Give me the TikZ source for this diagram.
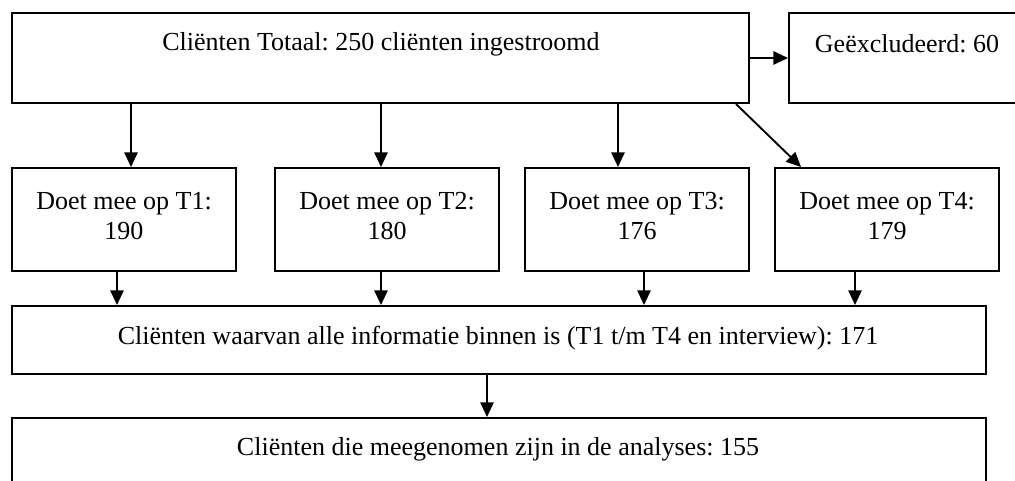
\documentclass[tikz,border=0pt]{standalone}
\usepackage{fontspec}
\setmainfont{Liberation Serif}
\usetikzlibrary{arrows.meta}
\frenchspacing
\begin{document}
\begin{tikzpicture}[x={(0.75pt,0)},y={(0,-0.75pt)},
  box/.style={draw,line width=1.5pt,rectangle,inner sep=0pt},
  txt/.style={inner sep=0pt,align=center,font=\frenchspacing\fontsize{19.5pt}{22.5pt}\selectfont},
  arr/.style={line width=1.4pt,-{Triangle[length=11pt,width=10pt]}}]
\useasboundingbox (0,0) rectangle (1015,481);
\clip (0,0) rectangle (1015,481);
% boxes
\node[box,minimum width=737*0.75pt,minimum height=90*0.75pt] (top) at (380.5,58) {};
\node[box,minimum width=236*0.75pt,minimum height=90*0.75pt] (excl) at (907,58) {};
\node[box,minimum width=224*0.75pt,minimum height=103*0.75pt] (t1) at (124,219.5) {};
\node[box,minimum width=224*0.75pt,minimum height=103*0.75pt] (t2) at (387,219.5) {};
\node[box,minimum width=224*0.75pt,minimum height=103*0.75pt] (t3) at (637,219.5) {};
\node[box,minimum width=224*0.75pt,minimum height=103*0.75pt] (t4) at (887,219.5) {};
\node[box,minimum width=974*0.75pt,minimum height=68*0.75pt] (all) at (499,340) {};
\node[box,minimum width=974*0.75pt,minimum height=90*0.75pt] (ana) at (499,463) {};
% texts
\node[txt] (ttop) at (381,44) {Cliënten Totaal: 250 cliënten ingestroomd};
\node[txt] (texcl) at (907,44) {Geëxcludeerd: 60};
\node[txt] (tt1) at (124,216) {Doet mee op T1:\\190};
\node[txt] (tt2) at (387,216) {Doet mee op T2:\\180};
\node[txt] (tt3) at (637,216) {Doet mee op T3:\\176};
\node[txt] (tt4) at (887,216) {Doet mee op T4:\\179};
\node[txt] (tall) at (498,338) {Cliënten waarvan alle informatie binnen is (T1 t/m T4 en interview): 171};
\node[txt] (tana) at (498,449) {Cliënten die meegenomen zijn in de analyses: 155};
% arrow positions
\coordinate (a1) at (131,0);
\coordinate (a2) at (381,0);
\coordinate (a3) at (618,0);
\coordinate (d0) at (736,0);
\coordinate (d1) at (801,0);
\coordinate (b1) at (117,0);
\coordinate (b2) at (381,0);
\coordinate (b3) at (644,0);
\coordinate (b4) at (855,0);
\coordinate (c1) at (487,0);
% connectors
\draw[arr] (top.east) -- (excl.west);
\draw[arr] (a1 |- top.south) -- (a1 |- t1.north);
\draw[arr] (a2 |- top.south) -- (a2 |- t2.north);
\draw[arr] (a3 |- top.south) -- (a3 |- t3.north);
\draw[arr] (d0 |- top.south) -- (d1 |- t4.north);
\draw[arr] (b1 |- t1.south) -- (b1 |- all.north);
\draw[arr] (b2 |- t2.south) -- (b2 |- all.north);
\draw[arr] (b3 |- t3.south) -- (b3 |- all.north);
\draw[arr] (b4 |- t4.south) -- (b4 |- all.north);
\draw[arr] (c1 |- all.south) -- (c1 |- ana.north);
\end{tikzpicture}
\end{document}
